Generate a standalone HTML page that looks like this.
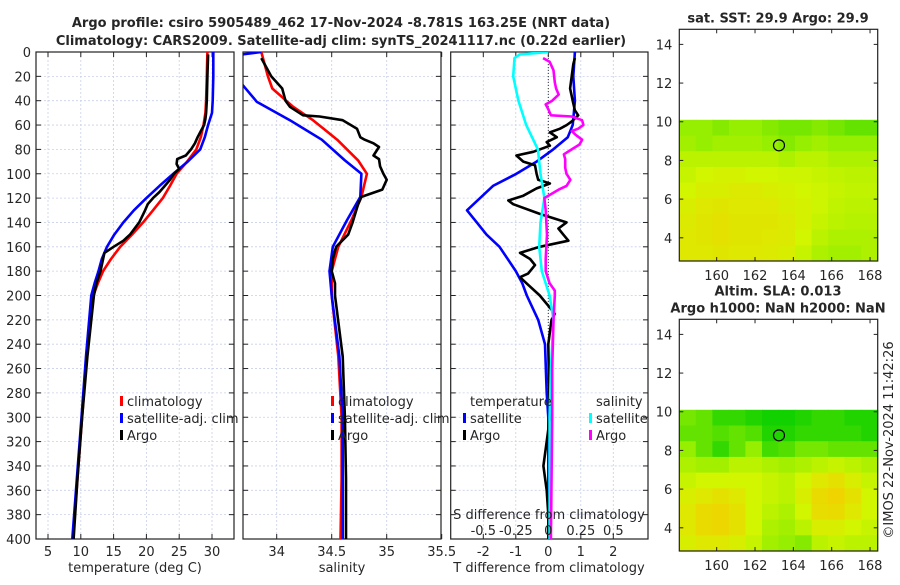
<!DOCTYPE html>
<html><head><meta charset="utf-8"><style>
body{margin:0;background:#fff;}
svg text{font-family:"DejaVu Sans","Liberation Sans",sans-serif;fill:#262626;}
</style></head><body>
<svg id="c" xmlns="http://www.w3.org/2000/svg" width="900" height="580" viewBox="0 0 900 580"></svg>
<script>
// ---- data ----
const tClimDepth=[0,20,40,50,60,70,80,90,100,110,120,130,140,150,160,170,180,190,200,250,300,350,400];
const tClimVal=[29.3,29.2,29.1,29.0,28.7,28.3,27.6,26.2,24.6,23.6,22.5,21.0,19.5,17.8,16.0,14.6,13.4,12.6,11.9,10.9,10.2,9.5,8.8];
const tSatDepth=[0,20,40,50,60,70,80,90,100,110,120,130,140,150,160,170,180,190,200,250,300,350,400];
const tSatVal=[30.2,30.2,30.1,30.0,29.4,28.9,28.2,26.3,24.1,22.0,20.0,18.1,16.5,15.1,14.0,13.2,12.7,12.1,11.6,10.8,10.1,9.4,8.7];
const tArgoDepth=[2,20,40,50,55,60,65,70,75,80,85,88,92,96,100,105,110,115,120,125,130,140,150,155,160,165,170,180,190,200,250,300,350,400];
const tArgoVal=[29.4,29.3,29.2,29.1,29.0,28.8,28.3,27.8,27.4,26.8,26.0,24.7,24.6,25.0,24.2,23.6,22.8,22.0,21.0,20.2,19.8,18.9,17.5,16.5,15.0,13.6,13.4,13.0,12.4,12.0,11.0,10.2,9.5,8.9];

const sClimDepth=[0,20,30,45,56,72,89,100,119,138,160,180,200,250,300,350,400];
const sClimVal=[33.86,33.92,33.96,34.15,34.33,34.55,34.74,34.82,34.77,34.68,34.56,34.5,34.5,34.56,34.59,34.59,34.58];
const sSatDepth=[0,3,10,20,27,41,56,72,89,100,119,138,160,180,200,250,300,350,400];
const sSatVal=[33.86,33.6,33.4,33.4,33.69,33.82,34.12,34.41,34.62,34.77,34.76,34.64,34.51,34.48,34.5,34.57,34.6,34.6,34.6];
const sArgoDepth=[5,20,30,40,45,52,53,56,63,70,72,75,78,85,88,94,100,105,113,119,125,140,150,160,170,180,190,200,250,300,350,400];
const sArgoVal=[33.86,33.95,34.05,34.08,34.12,34.24,34.39,34.6,34.73,34.76,34.8,34.88,34.93,34.88,34.93,34.94,34.97,35.0,34.96,34.77,34.74,34.69,34.65,34.54,34.51,34.5,34.53,34.53,34.6,34.62,34.63,34.63];

const dTSatDepth=[0,20,40,55,60,70,80,90,100,110,130,140,150,160,180,190,200,220,240,280,300,400];
const dTSatVal=[0.82,0.77,0.82,0.77,0.75,0.6,0.15,-0.36,-0.98,-1.7,-2.5,-2.2,-1.9,-1.5,-1.0,-0.8,-0.66,-0.31,-0.1,-0.05,0,0];
const dTArgoDepth=[5,10,20,30,40,48,52,57,60,63,66,70,74,77,82,85,90,93,100,105,108,112,118,122,125,133,140,145,150,155,160,165,170,175,182,185,190,200,210,215,220,230,240,270,300,320,340,360,380,400];
const dTArgoVal=[0.82,0.77,0.72,0.67,0.75,0.82,0.92,0.72,0.57,0.36,0.05,0.26,-0.05,0.05,-0.46,-0.98,-0.77,-0.41,-0.36,-0.31,0.05,-0.36,-0.77,-1.23,-1.08,-0.26,0.56,0.31,0.46,0.62,-0.26,-0.87,-0.56,-0.41,-0.62,-0.87,-0.67,-0.26,0.05,0.2,0.1,0.05,0,0.02,0.05,-0.05,-0.15,-0.05,0,0];
const dSSatDepth=[0,2,5,20,40,60,80,100,120,140,160,180,200,220,260,300,400];
const dSSatVal=[0,-0.22,-0.26,-0.27,-0.23,-0.17,-0.08,-0.06,-0.03,-0.06,-0.07,-0.05,0.01,0.04,0.02,0.01,0.01];
const dSArgoDepth=[5,8,15,25,30,35,40,43,47,52,53,56,60,63,65,68,72,76,80,84,88,95,100,105,110,113,118,120,130,150,170,180,190,196,200,220,260,300,400];
const dSArgoVal=[-0.04,0.01,0.04,0.05,0.06,0.08,0.03,-0.02,0,0.02,0.18,0.26,0.27,0.23,0.18,0.21,0.26,0.24,0.18,0.12,0.13,0.13,0.14,0.17,0.14,0.08,0,-0.03,-0.02,-0.01,-0.02,-0.02,0.01,0.05,0.05,0.04,0.03,0.03,0.02];

const depthTicks=[0,20,40,60,80,100,120,140,160,180,200,220,240,260,280,300,320,340,360,380,400];
const tempTicks=[5,10,15,20,25,30];
const salTicks=[34,34.5,35,35.5];
const dTTicks=[-2,-1,0,1,2];
const dSTicks=[-0.5,-0.25,0,0.25,0.5];
const lonTicks=[160,162,164,166,168];
const latTicks=[4,6,8,10,12,14];

const sstGrid=[
[.45,.45,.4,.45,.45,.4,.35,.35,.4,.35,.3,.3],
[.5,.45,.5,.5,.5,.45,.4,.45,.5,.45,.45,.45],
[.6,.6,.6,.6,.6,.6,.55,.6,.6,.55,.55,.55],
[.65,.7,.72,.72,.7,.7,.68,.68,.65,.62,.6,.6],
[.7,.75,.75,.78,.78,.75,.72,.7,.68,.65,.62,.62],
[.75,.8,.82,.8,.8,.8,.75,.72,.68,.62,.6,.6],
[.78,.82,.85,.82,.82,.82,.78,.72,.65,.6,.58,.58],
[.8,.82,.85,.82,.82,.8,.78,.7,.6,.55,.55,.55],
[.8,.8,.82,.8,.8,.78,.75,.65,.55,.5,.5,.55]];
const slaGrid=[
[.35,.3,.15,.15,.1,.05,.05,.1,.15,.15,.1,.1],
[.3,.3,.25,.3,.25,.1,.1,.15,.15,.15,.15,.1],
[.45,.3,.15,.3,.45,.2,.25,.35,.35,.3,.3,.3],
[.55,.5,.5,.6,.6,.55,.5,.55,.6,.65,.6,.55],
[.65,.7,.7,.7,.7,.65,.6,.7,.8,.85,.75,.65],
[.75,.8,.85,.8,.7,.65,.6,.75,.9,.95,.85,.7],
[.8,.9,.92,.85,.7,.6,.55,.7,.88,.9,.8,.7],
[.8,.9,.92,.85,.7,.55,.5,.6,.75,.75,.7,.65],
[.75,.8,.8,.75,.65,.5,.45,.4,.6,.65,.6,.6]];
const argoLon=163.25, argoLat=8.78;

// ---- helpers ----
const NS="http://www.w3.org/2000/svg";
const svg=document.getElementById('c');
function el(tag,attrs,parent){const e=document.createElementNS(NS,tag);for(const k in attrs)e.setAttribute(k,attrs[k]);(parent||svg).appendChild(e);return e;}
function txt(x,y,s,attrs,parent){const t=el('text',Object.assign({x:x,y:y,'font-size':13},attrs||{}),parent);t.textContent=s;return t;}

const Y0=52,Y1=539;
const yD=d=>Y0+(Y1-Y0)*d/400;
const xT=t=>48+(t-5)*6.56;
const xS=s=>276.7+(s-34)*110;
const xDT=v=>548.3+v*32.5;
const xDS=v=>548.3+v*130;

function panel(name,x0,x1,xt,ticks,fmt,clipId){
  const g=el('g',{});
  
  
  const cp=el('clipPath',{id:clipId},g);el('rect',{x:x0,y:Y0,width:x1-x0,height:Y1-Y0},cp);
  depthTicks.forEach(d=>{el('line',{x1:x0,x2:x1,y1:yD(d),y2:yD(d),stroke:'#c8d0e8','stroke-width':0.8,'stroke-dasharray':'2,2'},g);});
  ticks.forEach(t=>{const x=xt(t);if(x>x0&&x<x1)el('line',{x1:x,x2:x,y1:Y0,y2:Y1,stroke:'#c8d0e8','stroke-width':0.8,'stroke-dasharray':'2,2'},g);});
  depthTicks.forEach(d=>{el('line',{x1:x0,x2:x0+5,y1:yD(d),y2:yD(d),stroke:'#222'},g);el('line',{x1:x1-5,x2:x1,y1:yD(d),y2:yD(d),stroke:'#222'},g);});
  ticks.forEach(t=>{const x=xt(t);el('line',{x1:x,x2:x,y1:Y1,y2:Y1-5,stroke:'#222'},g);el('line',{x1:x,x2:x,y1:Y0,y2:Y0+5,stroke:'#222'},g);
    const lb=txt(x,556,fmt(t),{'text-anchor':'middle'},g);});
  el('rect',{x:x0,y:Y0,width:x1-x0,height:Y1-Y0,fill:'none',stroke:'#222','stroke-width':1.2},g);
  return g;
}
function line(name,ds,vs,xf,color,clipId){
  const pts=ds.map((d,i)=>xf(vs[i]).toFixed(1)+','+yD(d).toFixed(1)).join(' ');
  const p=el('polyline',{points:pts,fill:'none',stroke:color,'stroke-width':2.6,'stroke-linejoin':'round','clip-path':'url(#'+clipId+')'});
  
  
}
function legend(x,y,label,color,name){
  const g=el('g',{});
  
  
  el('rect',{x:x-7,y:y-10,width:3,height:10,fill:color},g);
  txt(x,y,label,{},g);
}

// titles
const t1=txt(341,27,'Argo profile: csiro 5905489_462 17-Nov-2024 -8.781S 163.25E (NRT data)',{'text-anchor':'middle','font-weight':'bold'});

const t2=txt(341,45,'Climatology: CARS2009. Satellite-adj clim: synTS_20241117.nc (0.22d earlier)',{'text-anchor':'middle','font-weight':'bold'});


// depth labels
depthTicks.forEach(d=>{const t=txt(31,yD(d)+5,String(d),{'text-anchor':'end'});});

// panel 1
panel('temperature-panel',36,234,xT,tempTicks,String,'cp1');
line('temp-climatology-line',tClimDepth,tClimVal,xT,'#ff0000','cp1');
line('temp-satellite-line',tSatDepth,tSatVal,xT,'#0000ff','cp1');
line('temp-argo-line',tArgoDepth,tArgoVal,xT,'#000000','cp1');
legend(127,406,'climatology','#ff0000','legend-climatology');
legend(127,423,'satellite-adj. clim','#0000ff','legend-satellite');
legend(127,440,'Argo','#000000','legend-argo');
const xl1=txt(135,572,'temperature (deg C)',{'text-anchor':'middle'});

// panel 2
panel('salinity-panel',243,441,xS,salTicks,String,'cp2');
line('sal-climatology-line',sClimDepth,sClimVal,xS,'#ff0000','cp2');
line('sal-satellite-line',sSatDepth,sSatVal,xS,'#0000ff','cp2');
line('sal-argo-line',sArgoDepth,sArgoVal,xS,'#000000','cp2');
legend(338,406,'climatology','#ff0000','legend-climatology');
legend(338,423,'satellite-adj. clim','#0000ff','legend-satellite');
legend(338,440,'Argo','#000000','legend-argo');
const xl2=txt(342,572,'salinity',{'text-anchor':'middle'});

// panel 3
panel('difference-panel',450.7,648,xDT,dTTicks,String,'cp3');
el('line',{x1:548.3,x2:548.3,y1:Y0,y2:Y1,stroke:'#333','stroke-width':1,'stroke-dasharray':'1,2'});
line('dT-satellite-line',dTSatDepth,dTSatVal,xDT,'#0000ff','cp3');
line('dT-argo-line',dTArgoDepth,dTArgoVal,xDT,'#000000','cp3');
line('dS-satellite-line',dSSatDepth,dSSatVal,xDS,'#00ffff','cp3');
line('dS-argo-line',dSArgoDepth,dSArgoVal,xDS,'#ff00ff','cp3');
txt(470,406,'temperature',{});
legend(470,423,'satellite','#0000ff','legend-t-satellite');
legend(470,440,'Argo','#000000','legend-t-argo');
txt(596,406,'salinity',{});
legend(596,423,'satellite','#00ffff','legend-s-satellite');
legend(596,440,'Argo','#ff00ff','legend-s-argo');
const sl=txt(549,519,'S difference from climatology',{'text-anchor':'middle'});
dSTicks.forEach(v=>{const t=txt(xDS(v),535,String(v),{'text-anchor':'middle'});});
const xl3=txt(549,572,'T difference from climatology',{'text-anchor':'middle'});

// maps
const MX0=679.3,MX1=877.7,LON0=158.05,LON1=168.4,LAT0=2.8,LAT1=14.78;
function cmap(v){
  const stops=[[0,[0,205,0]],[0.45,[150,238,0]],[0.7,[210,245,0]],[1,[245,205,0]]];
  for(let i=1;i<stops.length;i++){if(v<=stops[i][0]){const a=stops[i-1],b=stops[i],f=(v-a[0])/(b[0]-a[0]);
    return 'rgb('+a[1].map((c,j)=>Math.round(c+(b[1][j]-c)*f)).join(',')+')';}}
  return 'rgb(245,205,0)';
}
function map(name,top,title,grid){
  const bot=top+231.7;
  const xL=lon=>MX0+(lon-LON0)/(LON1-LON0)*(MX1-MX0);
  const yL=lat=>bot-(lat-LAT0)/(LAT1-LAT0)*(bot-top);
  const g=el('g',{});
  
  
  const rows=grid.length,cols=grid[0].length,latTop=10.1;
  const dLon=(LON1-LON0)/cols,dLat=(latTop-LAT0)/rows;
  grid.forEach((row,r)=>row.forEach((v,c)=>{
    const x=xL(LON0+c*dLon),y=yL(latTop-r*dLat);
    const cell=el('rect',{x:x.toFixed(1),y:y.toFixed(1),width:(xL(LON0+dLon)-xL(LON0)+0.6).toFixed(1),height:(yL(latTop-dLat)-yL(latTop)+0.6).toFixed(1),fill:cmap(v)},g);
    
    
  }));
  const ci=el('circle',{cx:xL(argoLon),cy:yL(argoLat),r:5.5,fill:'none',stroke:'#000','stroke-width':1.2},g);
  
  
  latTicks.forEach(l=>{const y=yL(l);el('line',{x1:MX0,x2:MX0+4,y1:y,y2:y,stroke:'#222'},g);el('line',{x1:MX1-4,x2:MX1,y1:y,y2:y,stroke:'#222'},g);
    const t=txt(MX0-7,y+5,String(l),{'text-anchor':'end'},g);});
  lonTicks.forEach(l=>{const x=xL(l);el('line',{x1:x,x2:x,y1:bot,y2:bot-4,stroke:'#222'},g);el('line',{x1:x,x2:x,y1:top,y2:top+4,stroke:'#222'},g);
    const t=txt(x,bot+19,String(l),{'text-anchor':'middle'},g);});
  el('rect',{x:MX0,y:top,width:MX1-MX0,height:bot-top,fill:'none',stroke:'#222','stroke-width':1.2},g);
  title.forEach((s,i)=>{const t=txt(778,top-7-(title.length-1-i)*17,s,{'text-anchor':'middle','font-weight':'bold'},g);});
}
map('sst-map',29.3,['sat. SST: 29.9 Argo: 29.9'],sstGrid);
map('sla-map',319.3,['Altim. SLA: 0.013','Argo h1000: NaN h2000: NaN'],slaGrid);
const cr=txt(0,0,'©IMOS 22-Nov-2024 11:42:26',{'text-anchor':'middle',transform:'translate(893,440) rotate(-90)'});

</script>
</body></html>
